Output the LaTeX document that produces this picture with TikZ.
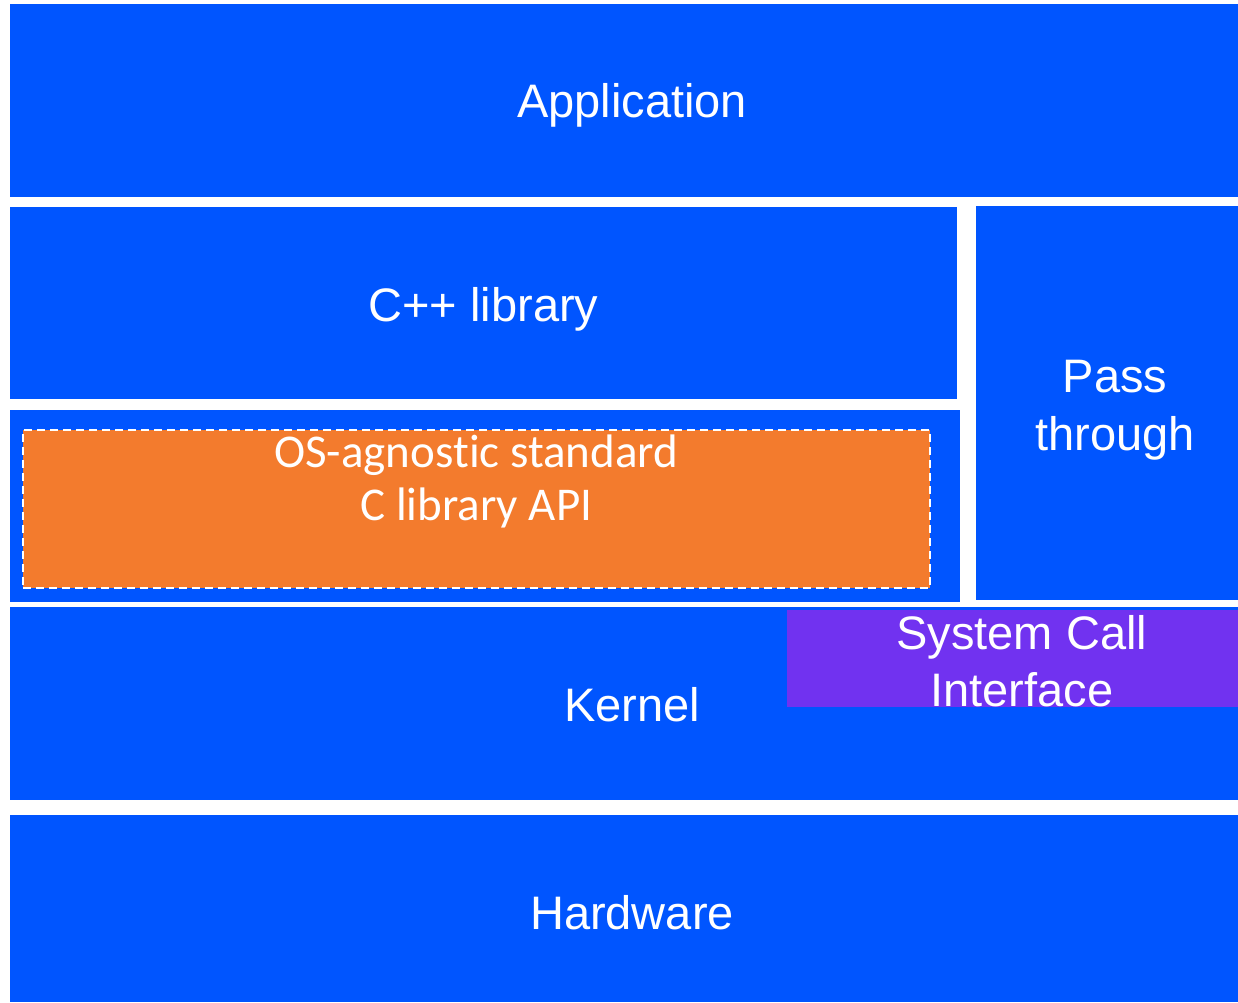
\documentclass[tikz,border=0pt]{standalone}
\usepackage{fontspec}
\setmainfont{Liberation Sans}
\newfontfamily\calibrifont[Ligatures=NoCommon]{Carlito}
\usetikzlibrary{positioning}
\definecolor{layerblue}{HTML}{0055FF}
\definecolor{apiorange}{HTML}{F37B2D}
\definecolor{callpurple}{HTML}{7132F0}

\begin{document}
\begin{tikzpicture}[
  x=1pt, y=-1pt,
  layer/.style={fill=layerblue, anchor=north west, inner sep=0pt, outer sep=0pt},
  txt/.style={text=white, align=center, inner sep=0pt, font=\fontsize{47}{58}\selectfont},
  apibox/.style={fill=apiorange, draw=white, line width=1.6pt, dash pattern=on 8pt off 5pt,
                 anchor=north west, inner sep=0pt},
  callbox/.style={fill=callpurple, anchor=north west, inner sep=0pt}
]
\useasboundingbox (0,0) rectangle (1238,1002);

% layers
\node[layer, minimum width=1228pt, minimum height=193pt] (app) at (10,4) {};
\node[layer, minimum width=947pt, minimum height=192pt] (cpp) at (10,207) {};
\node[layer, minimum width=950pt, minimum height=192pt] (clib) at (10,410) {};
\node[layer, minimum width=262pt, minimum height=394pt] (pass) at (976,206) {};
\node[layer, minimum width=1228pt, minimum height=193pt] (kernel) at (10,607) {};
\node[layer, minimum width=1228pt, minimum height=187pt] (hw) at (10,815) {};

% inner boxes
\node[apibox, minimum width=907pt, minimum height=158pt] (api) at (22,429) {};
\node[callbox, minimum width=451pt, minimum height=97pt] (syscall) at (787,610) {};

% labels
\node[txt] at ([xshift=8pt, yshift=-5pt]app.center) {Application};
\node[txt] at ([yshift=-6pt]cpp.center) {C++ library};
\node[txt, font=\calibrifont\fontsize{47}{53}\selectfont, anchor=north]
  at ([xshift=0pt, yshift=-6pt]api.north) {OS-agnostic standard\\C library API};
\node[txt] at ([xshift=8pt, yshift=-7pt]pass.center) {Pass\\through};
\node[txt] at ([xshift=8pt, yshift=-1pt]kernel.center) {Kernel};
\node[txt, font=\fontsize{47}{57}\selectfont] at ([xshift=9pt, yshift=-2pt]syscall.center) {System Call\\Interface};
\node[txt] at ([xshift=8pt, yshift=-4pt]hw.center) {Hardware};
\end{tikzpicture}
\end{document}
